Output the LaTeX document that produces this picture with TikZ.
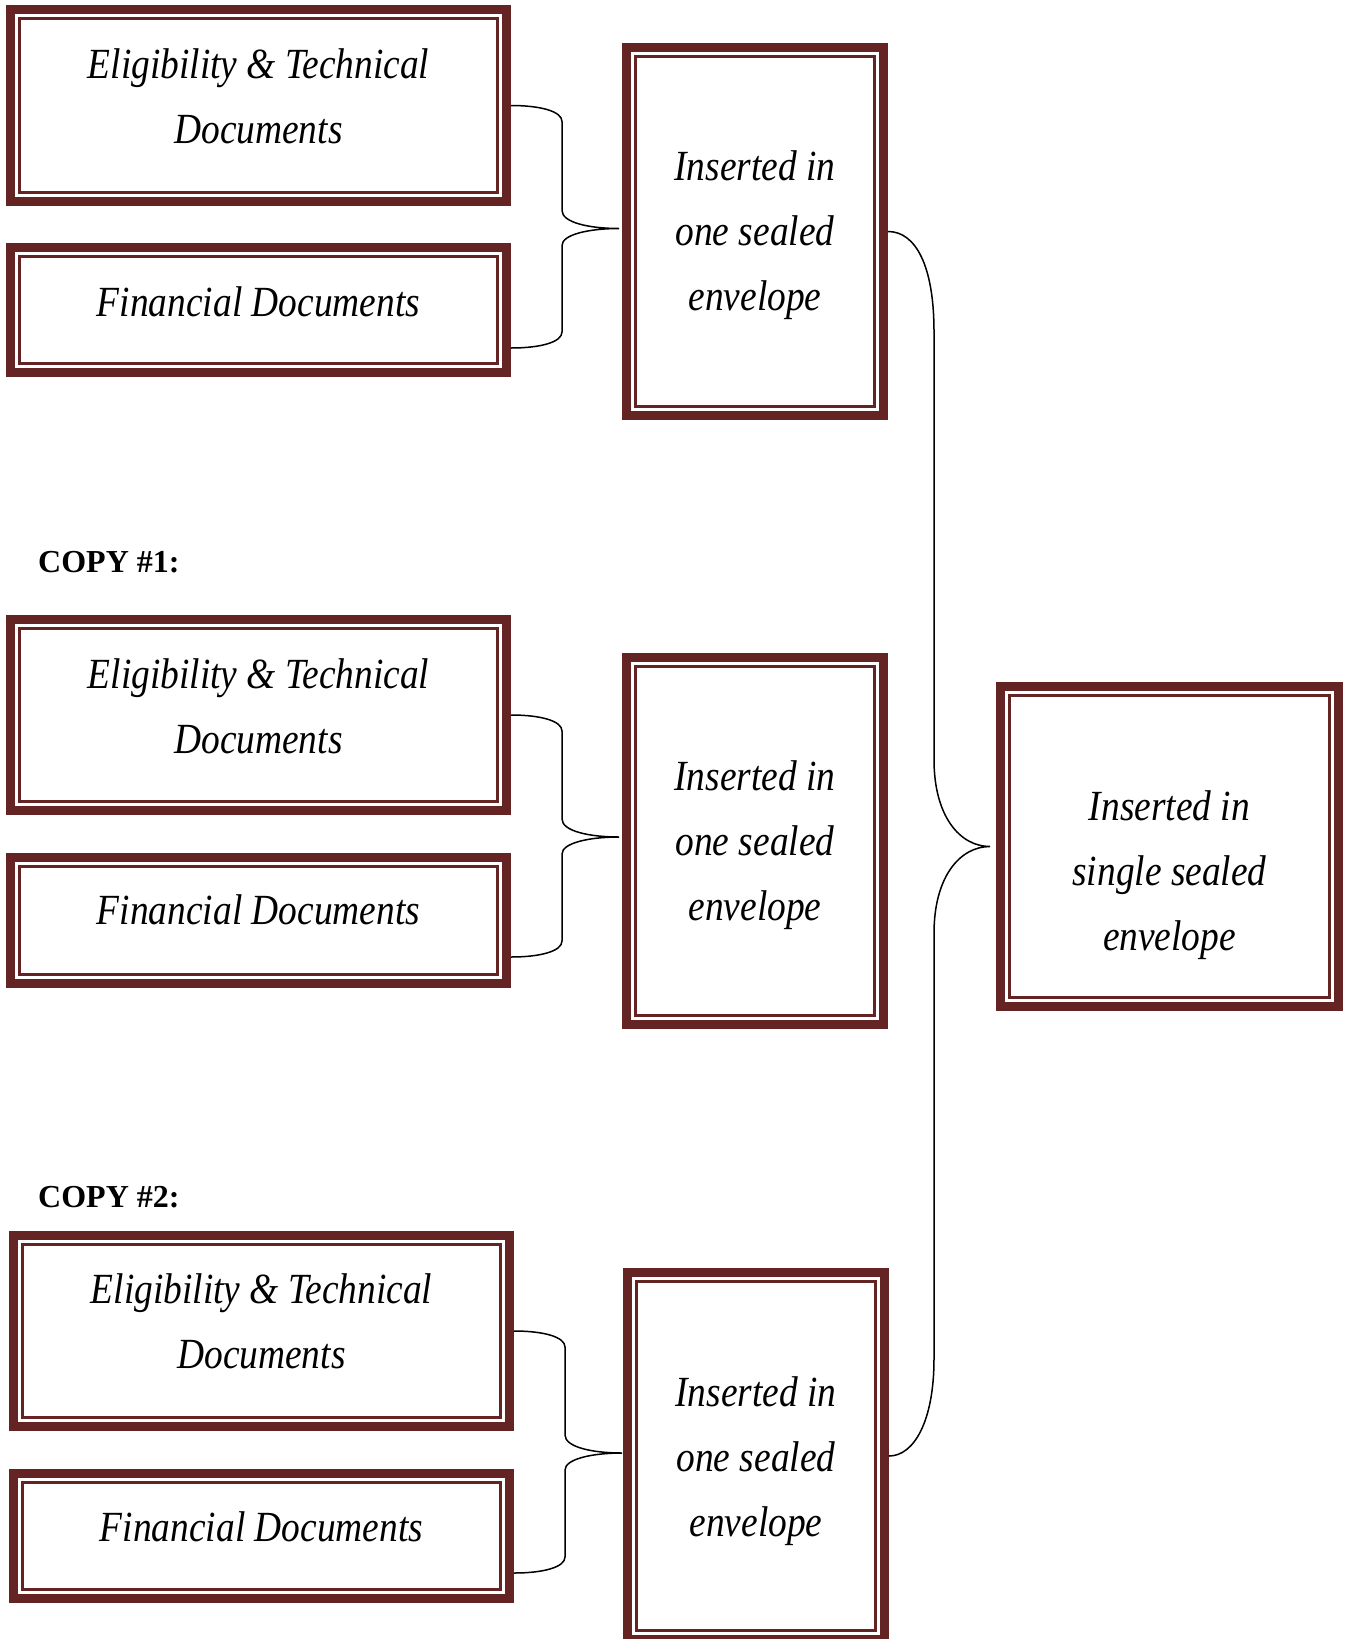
\documentclass[tikz,border=0pt]{standalone}
\usepackage{fontspec}
\setmainfont{Liberation Serif}
\newfontfamily\itf[FakeStretch=0.87]{Liberation Serif}
\usetikzlibrary{calc}
\definecolor{dred}{RGB}{99,36,35}
\newcommand\tl{\rule[-8pt]{0pt}{44pt}}
\tikzset{
  outerbox/.style={draw=dred, line width=9pt, rectangle, inner sep=0pt, fill=white},
  innerline/.style={draw=dred, line width=3pt},
  txt/.style={align=center, inner sep=0pt, font=\itf\itshape\fontsize{43}{65}\selectfont},
  copylabel/.style={anchor=west, inner sep=0pt, font=\bfseries\fontsize{32}{38}\selectfont},
  conn/.style={draw=black, line width=1.5pt}
}
\newcommand\dbox[5]{%
  \node[outerbox, minimum width=#4pt, minimum height=#5pt] (#1) at (#2,-#3) {};
  \draw[innerline] ($(#1.north west)+(13.5,-13.5)$) rectangle ($(#1.south east)+(-13.5,13.5)$);}
\newcommand\smallbrace[3]{%
  \draw[conn] (#1) .. controls ($(#1)+(30,0)$) and ($(#1)+(51,-6)$) .. ($(#1)+(51,-16)$)
   -- ($(#2)+(-57,18)$) .. controls ($(#2)+(-57,6)$) and ($(#2)+(-30,0)$) .. (#2)
   .. controls ($(#2)+(-30,0)$) and ($(#2)+(-57,-6)$) .. ($(#2)+(-57,-17)$)
   -- ($(#3)+(51,16)$) .. controls ($(#3)+(51,6)$) and ($(#3)+(30,0)$) .. (#3);}
\begin{document}
\begin{tikzpicture}[x=1pt,y=1pt]
\useasboundingbox (0,0) rectangle (1347,-1639);
% group 1
\dbox{A1}{258.5}{105.5}{496}{192}
\dbox{B1}{258.5}{310}{496}{125}
\dbox{E1}{755}{231.5}{257}{368}
\node[txt] (A1t) at (258.5,-96.5) {\tl Eligibility \& Technical\\\tl Documents};
\node[txt] (B1t) at (258.5,-302) {\tl Financial Documents};
\node[txt] (E1t) at (755,-232) {\tl Inserted in\\\tl one sealed\\\tl envelope};
% group 2
\node[copylabel] (C1) at (38,-562) {COPY \#1:};
\dbox{A2}{258.5}{715}{496}{191}
\dbox{B2}{258.5}{920.5}{496}{126}
\dbox{E2}{755}{841}{257}{367}
\node[txt] (A2t) at (258.5,-706.5) {\tl Eligibility \& Technical\\\tl Documents};
\node[txt] (B2t) at (258.5,-910) {\tl Financial Documents};
\node[txt] (E2t) at (755,-842) {\tl Inserted in\\\tl one sealed\\\tl envelope};
% group 3
\node[copylabel] (C2) at (38,-1197) {COPY \#2:};
\dbox{A3}{261.5}{1331}{496}{191}
\dbox{B3}{261.5}{1536}{496}{125}
\dbox{E3}{756}{1456}{257}{367}
\node[txt] (A3t) at (261.5,-1322) {\tl Eligibility \& Technical\\\tl Documents};
\node[txt] (B3t) at (261.5,-1527) {\tl Financial Documents};
\node[txt] (E3t) at (756,-1458) {\tl Inserted in\\\tl one sealed\\\tl envelope};
% final envelope
\dbox{F}{1169.5}{846.5}{338}{320}
\node[txt] (Ft) at (1169.5,-872) {\tl Inserted in\\\tl single sealed\\\tl envelope};
% small braces
\coordinate (t1) at ($(E1.west)+(-3,3)$);
\coordinate (b1) at ($(B1.south east)+(0,29)$);
\smallbrace{A1.east}{t1}{b1}
\coordinate (t2) at ($(E2.west)+(-3,4)$);
\coordinate (b2) at ($(B2.south east)+(0,31)$);
\smallbrace{A2.east}{t2}{b2}
\coordinate (t3) at ($(E3.west)+(-1,3)$);
\coordinate (b3) at ($(B3.south east)+(0,30)$);
\smallbrace{A3.east}{t3}{b3}
% big brace
\coordinate (ft) at ($(F.west)+(-6,0)$);
\draw[conn] (E1.east) .. controls ($(E1.east)+(28,0)$) and ($(E1.east)+(46,-35)$) .. ($(E1.east)+(46,-100)$)
  -- ($(ft)+(-56,87)$) .. controls ($(ft)+(-56,30)$) and ($(ft)+(-30,0)$) .. (ft)
  .. controls ($(ft)+(-30,0)$) and ($(ft)+(-56,-30)$) .. ($(ft)+(-56,-87)$)
  -- ($(E3.east)+(45,97)$) .. controls ($(E3.east)+(45,35)$) and ($(E3.east)+(25,0)$) .. (E3.east);
\end{tikzpicture}
\end{document}
